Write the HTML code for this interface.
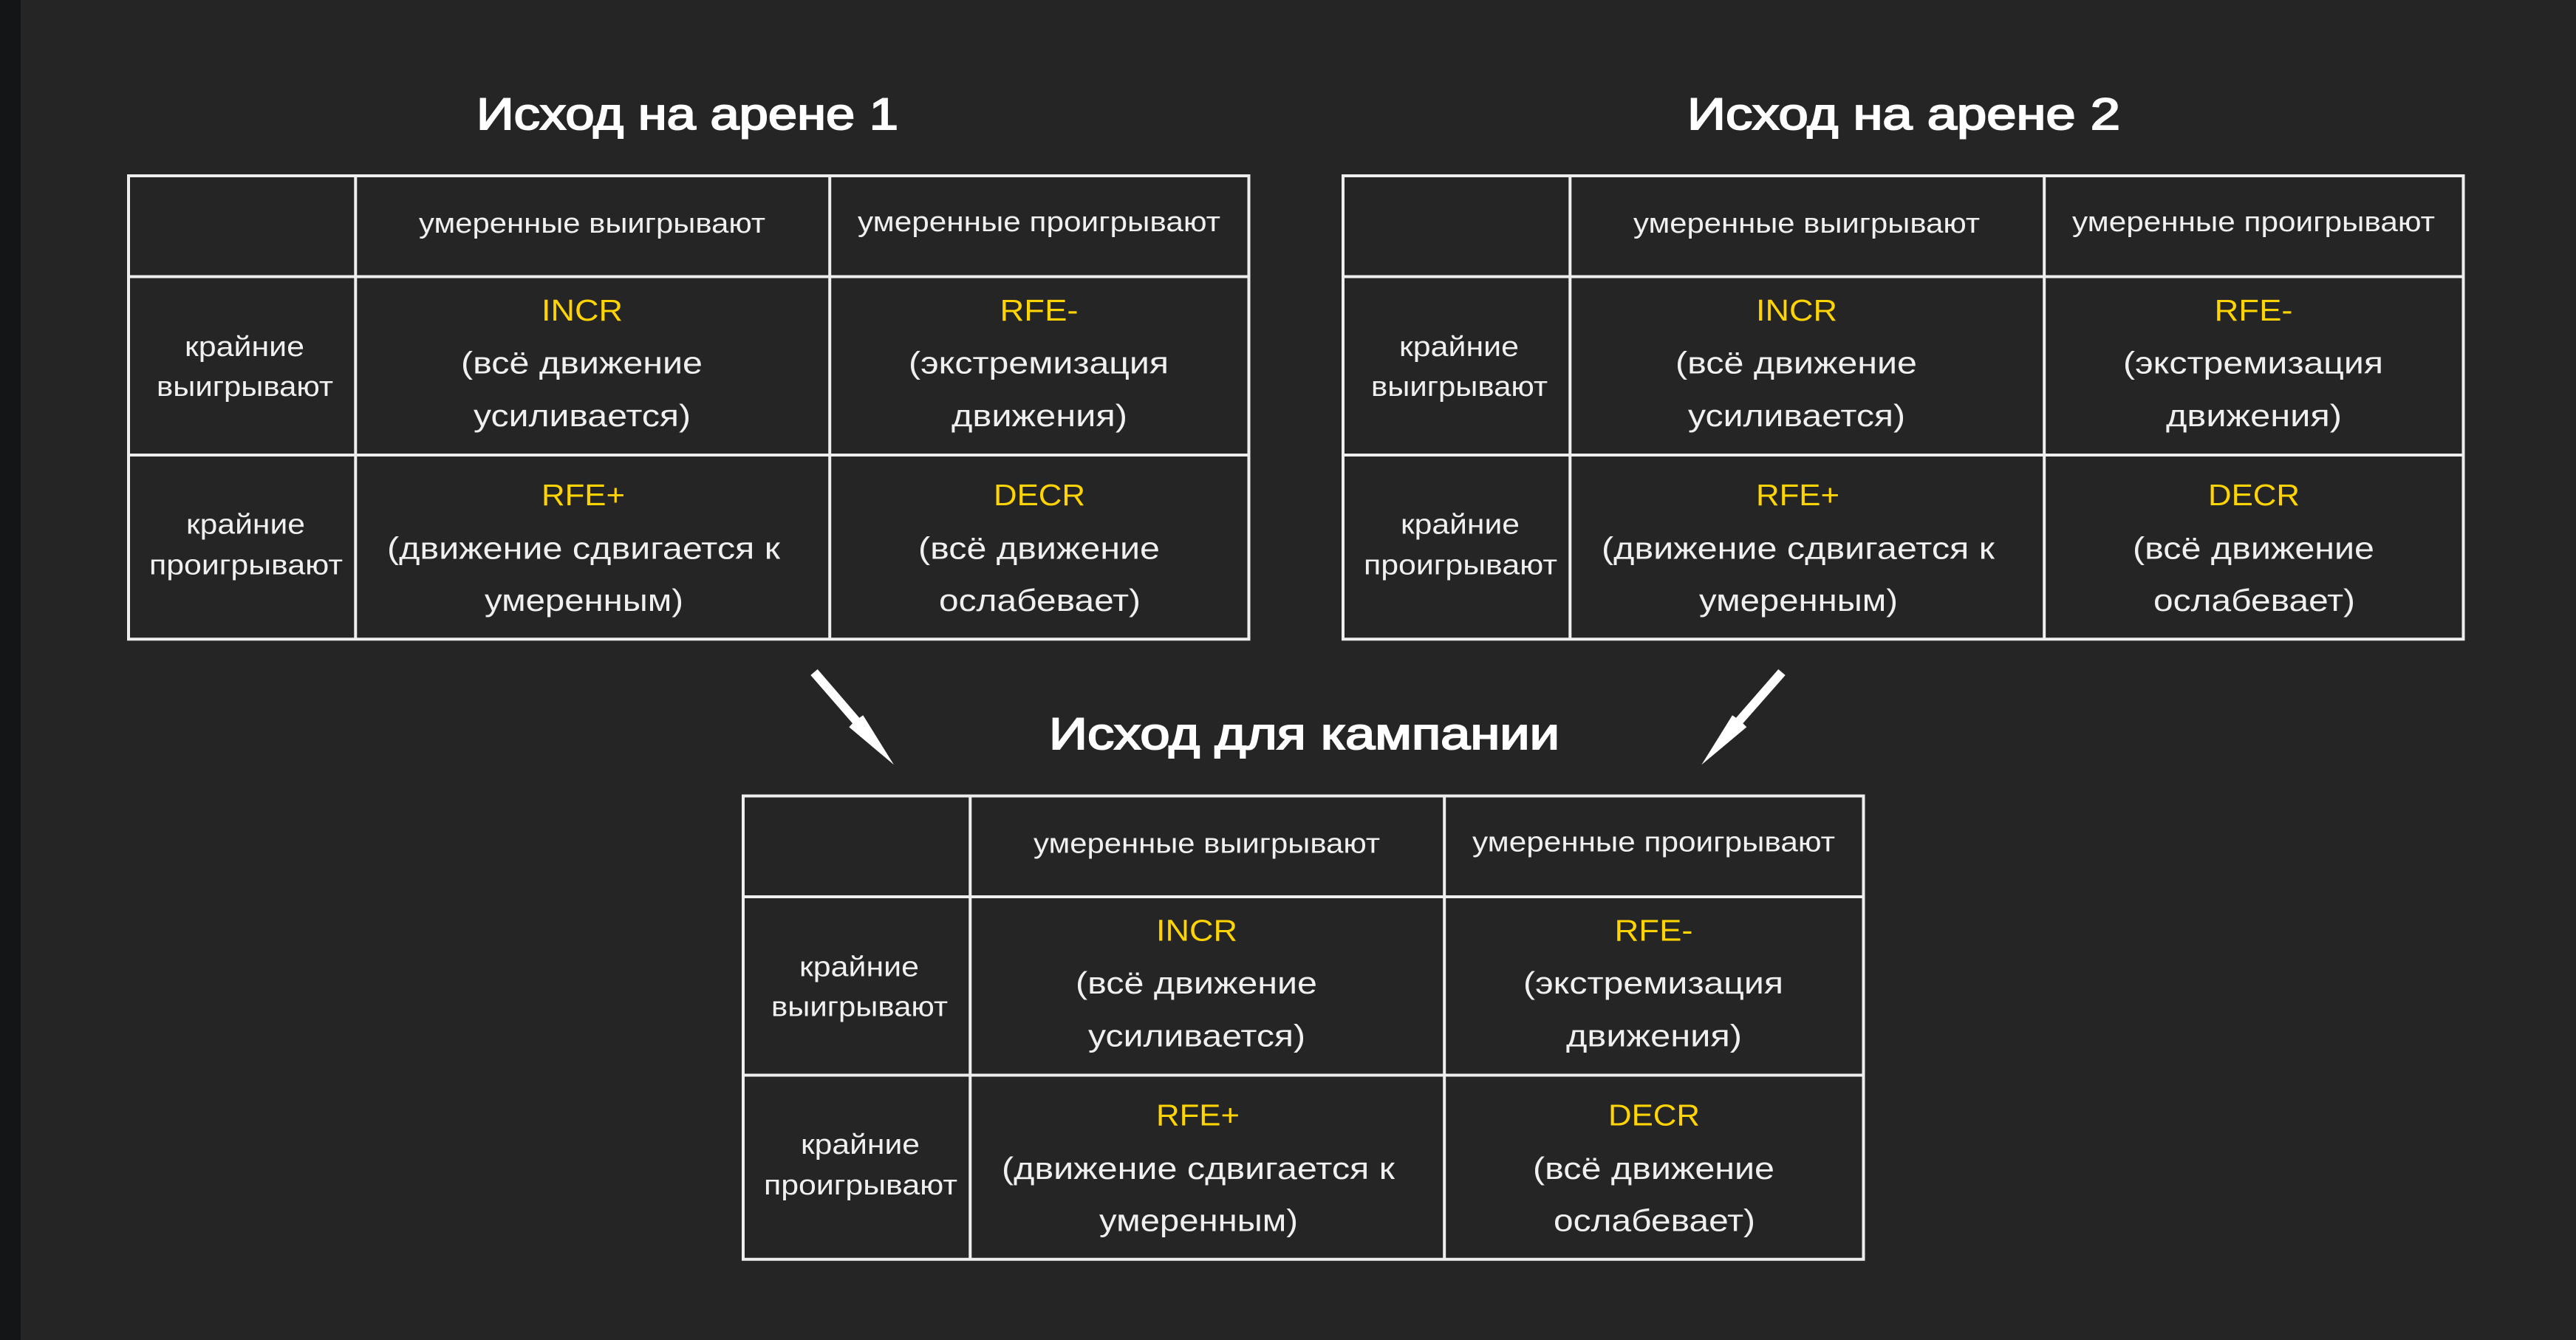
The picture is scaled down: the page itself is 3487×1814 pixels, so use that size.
<!DOCTYPE html>
<html lang="ru">
<head>
<meta charset="utf-8">
<title>Исход на арене</title>
<style>
html,body{margin:0;padding:0;background:#252525;width:3487px;height:1814px;overflow:hidden}
svg{display:block;position:absolute;left:0;top:0}
text{font-family:"Liberation Sans","Noto Sans CJK SC",sans-serif;fill:#f0f0f0}
.h,.r{font-size:38px}
.m{font-size:42px}
.y{font-size:41px;fill:#ffd400}
.t{font-size:60px;font-weight:400;fill:#fff;stroke:#fff;stroke-width:2}
.l{stroke:#eeeeee;stroke-width:4;fill:none}
</style>
</head>
<body>
<svg width="3487" height="1814" viewBox="0 0 3487 1814" xmlns="http://www.w3.org/2000/svg">
<rect x="0" y="0" width="3487" height="1814" fill="#252525"/>
<rect x="0" y="0" width="28" height="1814" fill="#141516"/>

<text class="t" x="645" y="175" textLength="571" lengthAdjust="spacingAndGlyphs">Исход на арене 1</text>
<text class="t" x="2284" y="175" textLength="586" lengthAdjust="spacingAndGlyphs">Исход на арене 2</text>
<text class="t" x="1420" y="1014" textLength="691" lengthAdjust="spacingAndGlyphs">Исход для кампании</text>

<polygon fill="#fff" points="1106.7,906 1163.3,971.7 1168.3,968.3 1210,1035.3 1149.3,984.3 1154,979.3 1097.3,914"/>
<polygon fill="#fff" points="2407.3,906 2350,971.7 2345,968.3 2303.3,1035.3 2364.3,984.3 2359.3,979.3 2416.7,914"/>

<g>
<path class="l" d="M174 238H1690.5V865.3H174ZM481.3 238V865.3M1123.2 238V865.3M174 374.5H1690.5M174 616H1690.5"/>
<text class="h" x="567" y="315" textLength="469" lengthAdjust="spacingAndGlyphs">умеренные выигрывают</text>
<text class="h" x="1161" y="313" textLength="491" lengthAdjust="spacingAndGlyphs">умеренные проигрывают</text>
<text class="r" x="250" y="482" textLength="162" lengthAdjust="spacingAndGlyphs">крайние</text>
<text class="r" x="212" y="536" textLength="239" lengthAdjust="spacingAndGlyphs">выигрывают</text>
<text class="r" x="252" y="722.5" textLength="161" lengthAdjust="spacingAndGlyphs">крайние</text>
<text class="r" x="202" y="777.5" textLength="262" lengthAdjust="spacingAndGlyphs">проигрывают</text>
<text class="y" x="733" y="434" textLength="110" lengthAdjust="spacingAndGlyphs">INCR</text>
<text class="m" x="624" y="505.5" textLength="327" lengthAdjust="spacingAndGlyphs">(всё движение</text>
<text class="m" x="641" y="577" textLength="294" lengthAdjust="spacingAndGlyphs">усиливается)</text>
<text class="y" x="1353.5" y="434" textLength="106" lengthAdjust="spacingAndGlyphs">RFE-</text>
<text class="m" x="1230" y="505.5" textLength="352" lengthAdjust="spacingAndGlyphs">(экстремизация</text>
<text class="m" x="1288" y="577" textLength="238" lengthAdjust="spacingAndGlyphs">движения)</text>
<text class="y" x="733" y="684" textLength="113" lengthAdjust="spacingAndGlyphs">RFE+</text>
<text class="m" x="524" y="756.5" textLength="532" lengthAdjust="spacingAndGlyphs">(движение сдвигается к</text>
<text class="m" x="656" y="827" textLength="269" lengthAdjust="spacingAndGlyphs">умеренным)</text>
<text class="y" x="1345" y="684" textLength="124" lengthAdjust="spacingAndGlyphs">DECR</text>
<text class="m" x="1243" y="756.5" textLength="327" lengthAdjust="spacingAndGlyphs">(всё движение</text>
<text class="m" x="1271" y="827" textLength="273" lengthAdjust="spacingAndGlyphs">ослабевает)</text>
</g>

<g transform="translate(1644 0)">
<path class="l" d="M174 238H1690.5V865.3H174ZM481.3 238V865.3M1123.2 238V865.3M174 374.5H1690.5M174 616H1690.5"/>
<text class="h" x="567" y="315" textLength="469" lengthAdjust="spacingAndGlyphs">умеренные выигрывают</text>
<text class="h" x="1161" y="313" textLength="491" lengthAdjust="spacingAndGlyphs">умеренные проигрывают</text>
<text class="r" x="250" y="482" textLength="162" lengthAdjust="spacingAndGlyphs">крайние</text>
<text class="r" x="212" y="536" textLength="239" lengthAdjust="spacingAndGlyphs">выигрывают</text>
<text class="r" x="252" y="722.5" textLength="161" lengthAdjust="spacingAndGlyphs">крайние</text>
<text class="r" x="202" y="777.5" textLength="262" lengthAdjust="spacingAndGlyphs">проигрывают</text>
<text class="y" x="733" y="434" textLength="110" lengthAdjust="spacingAndGlyphs">INCR</text>
<text class="m" x="624" y="505.5" textLength="327" lengthAdjust="spacingAndGlyphs">(всё движение</text>
<text class="m" x="641" y="577" textLength="294" lengthAdjust="spacingAndGlyphs">усиливается)</text>
<text class="y" x="1353.5" y="434" textLength="106" lengthAdjust="spacingAndGlyphs">RFE-</text>
<text class="m" x="1230" y="505.5" textLength="352" lengthAdjust="spacingAndGlyphs">(экстремизация</text>
<text class="m" x="1288" y="577" textLength="238" lengthAdjust="spacingAndGlyphs">движения)</text>
<text class="y" x="733" y="684" textLength="113" lengthAdjust="spacingAndGlyphs">RFE+</text>
<text class="m" x="524" y="756.5" textLength="532" lengthAdjust="spacingAndGlyphs">(движение сдвигается к</text>
<text class="m" x="656" y="827" textLength="269" lengthAdjust="spacingAndGlyphs">умеренным)</text>
<text class="y" x="1345" y="684" textLength="124" lengthAdjust="spacingAndGlyphs">DECR</text>
<text class="m" x="1243" y="756.5" textLength="327" lengthAdjust="spacingAndGlyphs">(всё движение</text>
<text class="m" x="1271" y="827" textLength="273" lengthAdjust="spacingAndGlyphs">ослабевает)</text>
</g>

<g transform="translate(832 839.5)">
<path class="l" d="M174 238H1690.5V865.3H174ZM481.3 238V865.3M1123.2 238V865.3M174 374.5H1690.5M174 616H1690.5"/>
<text class="h" x="567" y="315" textLength="469" lengthAdjust="spacingAndGlyphs">умеренные выигрывают</text>
<text class="h" x="1161" y="313" textLength="491" lengthAdjust="spacingAndGlyphs">умеренные проигрывают</text>
<text class="r" x="250" y="482" textLength="162" lengthAdjust="spacingAndGlyphs">крайние</text>
<text class="r" x="212" y="536" textLength="239" lengthAdjust="spacingAndGlyphs">выигрывают</text>
<text class="r" x="252" y="722.5" textLength="161" lengthAdjust="spacingAndGlyphs">крайние</text>
<text class="r" x="202" y="777.5" textLength="262" lengthAdjust="spacingAndGlyphs">проигрывают</text>
<text class="y" x="733" y="434" textLength="110" lengthAdjust="spacingAndGlyphs">INCR</text>
<text class="m" x="624" y="505.5" textLength="327" lengthAdjust="spacingAndGlyphs">(всё движение</text>
<text class="m" x="641" y="577" textLength="294" lengthAdjust="spacingAndGlyphs">усиливается)</text>
<text class="y" x="1353.5" y="434" textLength="106" lengthAdjust="spacingAndGlyphs">RFE-</text>
<text class="m" x="1230" y="505.5" textLength="352" lengthAdjust="spacingAndGlyphs">(экстремизация</text>
<text class="m" x="1288" y="577" textLength="238" lengthAdjust="spacingAndGlyphs">движения)</text>
<text class="y" x="733" y="684" textLength="113" lengthAdjust="spacingAndGlyphs">RFE+</text>
<text class="m" x="524" y="756.5" textLength="532" lengthAdjust="spacingAndGlyphs">(движение сдвигается к</text>
<text class="m" x="656" y="827" textLength="269" lengthAdjust="spacingAndGlyphs">умеренным)</text>
<text class="y" x="1345" y="684" textLength="124" lengthAdjust="spacingAndGlyphs">DECR</text>
<text class="m" x="1243" y="756.5" textLength="327" lengthAdjust="spacingAndGlyphs">(всё движение</text>
<text class="m" x="1271" y="827" textLength="273" lengthAdjust="spacingAndGlyphs">ослабевает)</text>
</g>
</svg>
</body>
</html>
